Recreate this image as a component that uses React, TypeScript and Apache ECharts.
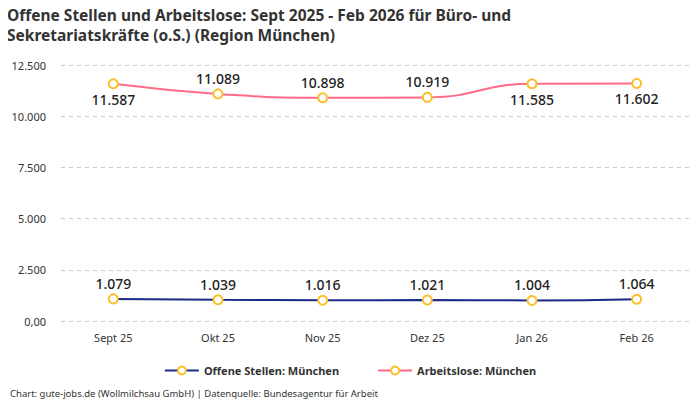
import React, { useEffect, useRef } from 'react';
import * as echarts from 'echarts';

const categories = ['Sept 25', 'Okt 25', 'Nov 25', 'Dez 25', 'Jan 26', 'Feb 26'];
const offeneStellen = [1079, 1039, 1016, 1021, 1004, 1064];
const arbeitslose = [11587, 11089, 10898, 10919, 11585, 11602];
// label placement for Arbeitslose (below/above the point)
const arbeitsloseLabelPos = ['bottom', 'top', 'top', 'top', 'bottom', 'bottom'];

const FONT = '"Noto Sans", sans-serif';

const fmtNum = (v: number) =>
  v === 0 ? '0,00' : v.toLocaleString('de-DE', { maximumFractionDigits: 0 });

const App: React.FC = () => {
  const chartRef = useRef<HTMLDivElement>(null);

  useEffect(() => {
    if (!chartRef.current) return;
    const chart = echarts.init(chartRef.current, undefined, { renderer: 'svg' });

    const labelStyle = {
      show: true,
      fontFamily: FONT,
      fontSize: 14,
      fontWeight: 500,
      color: '#222',
      formatter: (p: any) => fmtNum(p.value)
    };

    const option: echarts.EChartsOption = {
      animation: false,
      backgroundColor: '#fff',
      textStyle: { fontFamily: FONT },
      title: {
        text: 'Offene Stellen und Arbeitslose: Sept 2025 - Feb 2026 für Büro- und\nSekretariatskräfte (o.S.) (Region München)',
        left: 2,
        top: 0,
        textStyle: {
          fontFamily: FONT,
          fontSize: 15.5,
          fontWeight: 'bold',
          color: '#333',
          lineHeight: 20
        }
      },
      grid: { left: 61, right: 11, top: 65, bottom: 79 },
      legend: {
        bottom: 19,
        left: 'center',
        itemGap: 38,
        itemWidth: 34,
        itemHeight: 10,
        textStyle: { fontFamily: FONT, fontSize: 11, fontWeight: 'bold', color: '#333' },
        data: ['Offene Stellen: München', 'Arbeitslose: München']
      },
      xAxis: {
        type: 'category',
        data: categories,
        axisLine: { show: false },
        axisTick: { show: false },
        axisLabel: { color: '#333', fontSize: 11, margin: 11, fontFamily: FONT }
      },
      yAxis: {
        type: 'value',
        min: 0,
        max: 12500,
        interval: 2500,
        axisLabel: {
          color: '#333',
          fontSize: 11,
          margin: 15,
          fontFamily: FONT,
          formatter: (v: number) => fmtNum(v)
        },
        splitLine: { lineStyle: { color: '#ccc', type: [4, 4] } }
      },
      series: [
        {
          name: 'Offene Stellen: München',
          type: 'line',
          data: offeneStellen,
          smooth: true,
          symbol: 'circle',
          symbolSize: 9,
          lineStyle: { color: '#1a2b8c', width: 2 },
          itemStyle: { color: '#fff', borderColor: '#f9c02b', borderWidth: 2 },
          label: { ...labelStyle, position: 'top', distance: 3 }
        },
        {
          name: 'Arbeitslose: München',
          type: 'line',
          data: arbeitslose.map((v, i) => ({
            value: v,
            label: { position: arbeitsloseLabelPos[i] as any }
          })),
          smooth: true,
          symbol: 'circle',
          symbolSize: 9,
          lineStyle: { color: '#ff6b87', width: 2 },
          itemStyle: { color: '#fff', borderColor: '#f9c02b', borderWidth: 2 },
          label: { ...labelStyle, distance: 3 }
        }
      ],
      graphic: [
        {
          type: 'text',
          left: 10,
          bottom: 2,
          style: {
            text: 'Chart: gute-jobs.de (Wollmilchsau GmbH) | Datenquelle: Bundesagentur für Arbeit',
            fontFamily: FONT,
            fontSize: 9.5,
            fill: '#333'
          }
        }
      ]
    };

    chart.setOption(option);
    return () => chart.dispose();
  }, []);

  return <div ref={chartRef} style={{ width: 700, height: 400, margin: '-8px 0 0 -8px' }} />;
};

export default App;
